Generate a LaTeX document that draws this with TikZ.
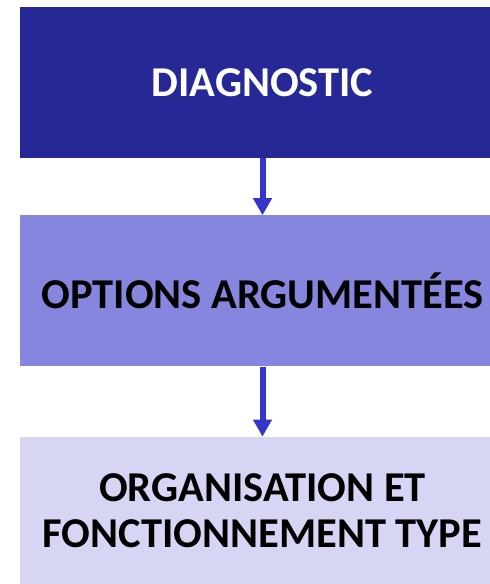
\documentclass[tikz,border=0pt]{standalone}
\usepackage{fontspec}
\setmainfont{Carlito}
\usetikzlibrary{arrows.meta,positioning}
\definecolor{bleufonce}{HTML}{262896}
\definecolor{bleumoyen}{HTML}{8686DE}
\definecolor{bleuclair}{HTML}{D6D6F4}
\definecolor{bleufleche}{HTML}{3535C8}
\tikzset{
    %Define standard arrow tip
    >={Triangle[width=18pt,length=17pt]},
    %Define style for boxes
    boite/.style={
           rectangle,
           minimum width=485pt,
           minimum height=151pt,
           inner sep=0pt,
           align=center,
           font=\fontsize{42.5}{46}\selectfont\bfseries},
    % Define arrow style
    fleche/.style={
           ->,
           line width=6pt,
           draw=bleufleche}
}
\begin{document}
\begin{tikzpicture}[x=1pt,y=1pt]
\useasboundingbox (0,0) rectangle (490,-584);
%Nodes
\node[boite, fill=bleufonce, text=white] (diag) at (262.5,-82.5) {DIAGNOSTIC};
\node[boite, fill=bleumoyen] (options) [below=57pt of diag] {OPTIONS ARGUMENTÉES};
\node[boite, fill=bleuclair, minimum height=148pt] (orga) [below=70pt of options] {ORGANISATION ET\\FONCTIONNEMENT TYPE};
%Arrows
\draw[fleche] (diag.south) -- (options.north);
\draw[fleche] (options.south) -- (orga.north);
\end{tikzpicture}
\end{document}
